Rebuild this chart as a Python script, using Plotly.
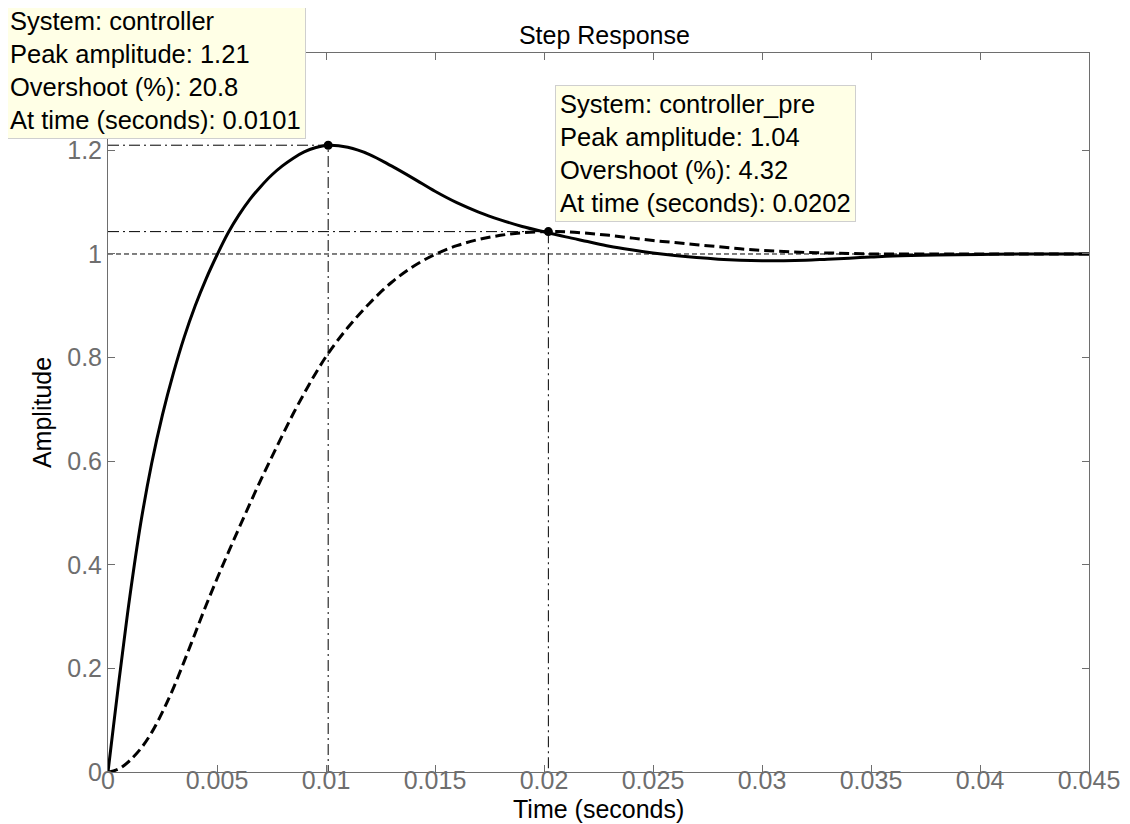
import plotly.graph_objects as go

# time grid (s)
t = [0, 0.00025, 0.0005, 0.00075, 0.001, 0.0015, 0.002, 0.0025, 0.003, 0.0035,
     0.004, 0.0045, 0.005, 0.0055, 0.006, 0.0065, 0.007, 0.0075, 0.008, 0.0085,
     0.009, 0.0095, 0.0101, 0.011, 0.012, 0.013, 0.014, 0.015, 0.016, 0.017,
     0.018, 0.019, 0.0202, 0.021, 0.022, 0.023, 0.024, 0.025, 0.026, 0.027,
     0.028, 0.029, 0.030, 0.031, 0.032, 0.033, 0.034, 0.035, 0.036, 0.038,
     0.040, 0.042, 0.045]

controller = [0, 0.088, 0.175, 0.258, 0.338, 0.48, 0.595, 0.69, 0.77, 0.84,
              0.9, 0.952, 0.998, 1.04, 1.075, 1.105, 1.13, 1.152, 1.17, 1.185,
              1.197, 1.205, 1.21, 1.206, 1.192, 1.17, 1.146, 1.121, 1.099, 1.081,
              1.066, 1.053, 1.041, 1.033, 1.024, 1.015, 1.008, 1.002, 0.997, 0.993,
              0.99, 0.988, 0.987, 0.987, 0.988, 0.99, 0.992, 0.994, 0.996, 0.998,
              0.999, 1.0, 1.0]

controller_pre = [0, 0.002, 0.006, 0.013, 0.022, 0.045, 0.076, 0.116, 0.162, 0.214,
                  0.268, 0.322, 0.373, 0.422, 0.47, 0.517, 0.563, 0.607, 0.65, 0.692,
                  0.731, 0.768, 0.808, 0.858, 0.905, 0.945, 0.976, 0.999, 1.016, 1.028,
                  1.036, 1.041, 1.0432, 1.043, 1.04, 1.036, 1.031, 1.026, 1.022, 1.018,
                  1.014, 1.01, 1.007, 1.005, 1.003, 1.002, 1.001, 1.0, 1.0, 1.0,
                  1.0, 1.0, 1.0]

peak_t = [0.0101, 0.0202]
peak_y = [1.21, 1.0432]
final_value = 1.0

box_text = [
    "System: controller<br>Peak amplitude: 1.21<br>Overshoot (%): 20.8<br>At time (seconds): 0.0101",
    "System: controller_pre<br>Peak amplitude: 1.04<br>Overshoot (%): 4.32<br>At time (seconds): 0.0202",
]

FONT = "Liberation Sans, Arial, sans-serif"
GRAY = "#6e6e6e"
DASHDOT = "11px,4px,2px,4px"

fig = go.Figure()

# steady-state line
fig.add_trace(go.Scatter(x=[0, 0.045], y=[final_value, final_value], mode="lines",
                         line=dict(color="black", width=1, dash="5px,3px"),
                         hoverinfo="skip", showlegend=False))

# peak guide lines
for pt, py in zip(peak_t, peak_y):
    fig.add_trace(go.Scatter(x=[0, pt, pt], y=[py, py, 0], mode="lines",
                             line=dict(color="black", width=1, dash=DASHDOT),
                             hoverinfo="skip", showlegend=False))

fig.add_trace(go.Scatter(x=t, y=controller_pre, mode="lines", name="controller_pre",
                         line=dict(color="black", width=3, dash="10px,5px", shape="spline"),
                         showlegend=False))
fig.add_trace(go.Scatter(x=t, y=controller, mode="lines", name="controller",
                         line=dict(color="black", width=3, shape="spline"),
                         showlegend=False))

fig.add_trace(go.Scatter(x=peak_t, y=peak_y, mode="markers",
                         marker=dict(color="black", size=9),
                         hoverinfo="skip", showlegend=False))

# data-tip boxes, placed in paper coords (first one sits outside the axes)
box_pos = [(-0.105, 1.0709), (0.4557, 0.9555)]
for (bx, by), txt in zip(box_pos, box_text):
    fig.add_annotation(x=bx, y=by, xref="paper", yref="paper", text=txt, showarrow=False,
                       xanchor="left", yanchor="top", align="left",
                       font=dict(family=FONT, size=25.5, color="black"),
                       bgcolor="#FFFFE6", bordercolor="#CFCFCF", borderwidth=1,
                       borderpad=4)

# x-axis title as an annotation so it can sit close to the tick labels
fig.add_annotation(x=0.5, y=-0.052, xref="paper", yref="paper", text="Time (seconds)",
                   showarrow=False, xanchor="center", yanchor="middle",
                   font=dict(family=FONT, size=25, color="black"))

axis_common = dict(showgrid=False, zeroline=False, showline=True, linecolor=GRAY,
                   linewidth=1, mirror="allticks", ticks="inside", ticklen=7,
                   tickcolor=GRAY, automargin=False,
                   tickfont=dict(family=FONT, size=25, color=GRAY))

# the page body adds an 8px offset, margins compensate for it
fig.update_layout(
    width=1130, height=824,
    paper_bgcolor="white", plot_bgcolor="white",
    margin=dict(l=100, r=49, t=45, b=60),
    font=dict(family=FONT, color="black"),
    title=dict(text="Step Response", xref="paper", x=0.506, xanchor="center",
               y=0.967, yanchor="middle",
               font=dict(family=FONT, size=25, color="black")),
    xaxis=dict(**axis_common, range=[0, 0.045], tickvals=[i * 0.005 for i in range(10)],
               ticktext=["0", "0.005", "0.01", "0.015", "0.02", "0.025", "0.03",
                         "0.035", "0.04", "0.045"],
               ticklabelstandoff=-14),
    yaxis=dict(**axis_common, range=[0, 1.388], tickvals=[0, 0.2, 0.4, 0.6, 0.8, 1, 1.2],
               ticktext=["0", "0.2", "0.4", "0.6", "0.8", "1", "1.2"],
               title=dict(text="Amplitude", font=dict(family=FONT, size=25), standoff=8)),
)

fig.write_html("out.html")
